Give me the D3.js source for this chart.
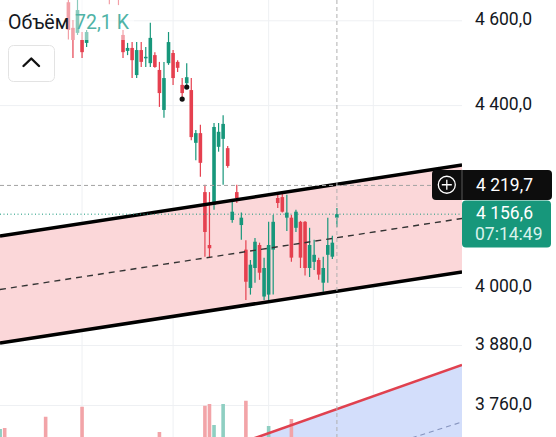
<!DOCTYPE html>
<html><head><meta charset="utf-8">
<script src="https://cdn.jsdelivr.net/npm/d3@7"></script>
<style>html,body{margin:0;padding:0;background:#fff;overflow:hidden}svg{display:block;font-family:Roboto,"Noto Sans",sans-serif}</style>
</head><body><svg id="c" width="556" height="437"></svg>
<script>
// ---- data ----
const candleOpen  = [4645,4583,4571,4554,4547,4680,4705,4690,4712,4695,4678,4700,4566,4528,4535,4471,4530,4511,4499,4518,4483,4390,4499,4523,4502,4448,4452,4436,4315,4337,4205,4090,4177,4306,4324,4303,4144,4205,4133,4080,3999,4041,4090,3981,3985,4080,4192,4194,4149,4149,4127,4140,4140,4041,4054,4058,4010,4069,4065,4149];
const candleHigh  = [4665,4602,4655,4573,4578,4725,4735,4742,4728,4708,4716,4706,4578,4547,4549,4549,4549,4537,4595,4525,4502,4502,4573,4530,4506,4464,4499,4464,4344,4356,4221,4205,4360,4360,4378,4308,4185,4221,4160,4100,4058,4105,4095,4063,4140,4155,4199,4205,4199,4155,4166,4142,4142,4127,4101,4063,4065,4149,4110,4170];
const candleLow   = [4555,4511,4566,4511,4537,4662,4668,4676,4670,4640,4660,4638,4511,4518,4464,4464,4490,4490,4490,4488,4397,4372,4495,4448,4478,4413,4443,4321,4276,4239,4065,4062,4166,4295,4221,4259,4138,4181,4101,3974,3985,4010,4016,3974,3968,3985,4170,4160,4120,4054,4118,4041,4025,4022,4037,4016,3991,4010,4060,4129];
const candleClose = [4578,4554,4626,4525,4573,4705,4690,4712,4695,4678,4700,4672,4525,4535,4506,4530,4502,4514,4559,4490,4429,4464,4549,4464,4488,4429,4466,4328,4337,4270,4118,4083,4351,4340,4358,4263,4162,4192,4149,4012,4048,4097,4031,4041,4090,4140,4181,4162,4160,4063,4162,4063,4041,4090,4069,4027,4041,4090,4095,4156.6];

// volume bars that reach into view (bar index, volume in K, up?)
const volIndex = [-15,-14,-5,3,20,30,31,32,34,39,44,49];
const volValue = [164,168,213,253,152,257,264,180,264,277,176,204];
const volUp    = [true,false,false,false,false,false,false,true,true,false,true,false];

const priceTicks = [4600,4400,4000,3880,3760];
const timeGridIdx = [3,23,44,67];

// drawings: anchor points (bar index, price)
const channelUpper = [[0,4132.0],[59,4222.4]];
const channelLower = [[0,3906.7],[59,3992.2]];
const redLine      = [[50,3724.6],[80,3819.8]];
const blueDashed   = [[80,3709.4],[86,3726.3]];
const markers      = [[25,4415],[26,4443]];

const crossPrice = 4219.7;
const lastPrice = 4156.6;
const timer = "07:14:49";
const volLabel = "Объём";
const volText = "72,1 K";

// ---- drawing ----
const W = 556, H = 437, plotR = 462;
const RED = "#e5404f", GREEN = "#17977b";
const svg = d3.select("#c");
const x = d3.scaleLinear().domain([0,59]).range([68.4,336.9]);
const y = d3.scaleLog().domain([3760,4600]).range([405.5,20.8]);
const yV = d3.scaleLinear().domain([0,400]).range([470,370]);
const ru = d3.formatLocale({decimal:",", thousands:" ", grouping:[3], currency:["",""]});
const fmt = ru.format(",.1f");

svg.append("rect").attr("width",W).attr("height",H).attr("fill","#fff");
svg.append("defs").append("clipPath").attr("id","plot")
  .append("rect").attr("x",0).attr("y",0).attr("width",plotR).attr("height",H);
const g = svg.append("g").attr("clip-path","url(#plot)");

// grid
g.selectAll(".hg").data(priceTicks).join("line")
  .attr("x1",0).attr("x2",plotR).attr("y1",d=>y(d)).attr("y2",d=>y(d))
  .attr("stroke","#eef0f3").attr("stroke-width",1);
g.selectAll(".vg").data(timeGridIdx).join("line")
  .attr("x1",d=>x(d)).attr("x2",d=>x(d)).attr("y1",0).attr("y2",H)
  .attr("stroke","#eef0f3").attr("stroke-width",1);

// helper: extend a two-anchor line across the plot width
function lineAt(anchors){
  const [a,b] = anchors;
  const x1=x(a[0]), y1=y(a[1]), x2=x(b[0]), y2=y(b[1]);
  const s=(y2-y1)/(x2-x1);
  return xx => y1 + s*(xx-x1);
}
const up = lineAt(channelUpper), lo = lineAt(channelLower);
const mid = xx => (up(xx)+lo(xx))/2;
const rl = lineAt(redLine), bd = lineAt(blueDashed);

// pink channel fill
g.append("path")
  .attr("d", d3.line()([[0,up(0)],[plotR,up(plotR)],[plotR,lo(plotR)],[0,lo(0)]]) + "Z")
  .attr("fill","#fbd7d9");
// blue fill under red line
g.append("path")
  .attr("d", d3.line()([[0,rl(0)],[plotR,rl(plotR)],[plotR,H+200],[0,H+200]]) + "Z")
  .attr("fill","#d3defb");

// volume
const bw = 3.6;
g.selectAll(".vol").data(volIndex).join("rect")
  .attr("x",(d)=>x(d)-bw/2).attr("width",bw)
  .attr("y",(d,i)=>yV(volValue[i])).attr("height",(d,i)=>yV(0)-yV(volValue[i]))
  .attr("fill",(d,i)=>volUp[i]?"#8fcfc2":"#f2a4a8");

// candles
const idx = d3.range(candleOpen.length);
const cg = g.append("g");
cg.selectAll(".wick").data(idx).join("line")
  .attr("x1",i=>x(i)).attr("x2",i=>x(i))
  .attr("y1",i=>y(candleHigh[i])).attr("y2",i=>y(candleLow[i]))
  .attr("stroke",i=>candleClose[i]>=candleOpen[i]?GREEN:RED).attr("stroke-width",1.2);
cg.selectAll(".body").data(idx).join("rect")
  .attr("x",i=>x(i)-bw/2).attr("width",bw)
  .attr("y",i=>y(Math.max(candleOpen[i],candleClose[i])))
  .attr("height",i=>Math.max(1.5, y(Math.min(candleOpen[i],candleClose[i]))-y(Math.max(candleOpen[i],candleClose[i]))))
  .attr("fill",i=>candleClose[i]>=candleOpen[i]?GREEN:RED);

// channel lines
g.append("line").attr("x1",0).attr("x2",plotR).attr("y1",up(0)).attr("y2",up(plotR))
  .attr("stroke","#000").attr("stroke-width",3.5);
g.append("line").attr("x1",0).attr("x2",plotR).attr("y1",lo(0)).attr("y2",lo(plotR))
  .attr("stroke","#000").attr("stroke-width",3.5);
g.append("line").attr("x1",0).attr("x2",plotR).attr("y1",mid(0)).attr("y2",mid(plotR))
  .attr("stroke","#333").attr("stroke-width",1.4).attr("stroke-dasharray","6,5");
g.append("line").attr("x1",0).attr("x2",plotR).attr("y1",rl(0)).attr("y2",rl(plotR))
  .attr("stroke","#e0414f").attr("stroke-width",2.6);
g.append("line").attr("x1",0).attr("x2",plotR).attr("y1",bd(0)).attr("y2",bd(plotR))
  .attr("stroke","#8795bf").attr("stroke-width",1.2).attr("stroke-dasharray","5,4");

// crosshair + last price line
g.append("line").attr("x1",0).attr("x2",plotR).attr("y1",y(crossPrice)).attr("y2",y(crossPrice))
  .attr("stroke","#a3a3a3").attr("stroke-width",1).attr("stroke-dasharray","4,3");
g.append("line").attr("x1",x(59)).attr("x2",x(59)).attr("y1",0).attr("y2",H)
  .attr("stroke","#b0b0b0").attr("stroke-width",1).attr("stroke-dasharray","4,3");
g.append("line").attr("x1",0).attr("x2",plotR).attr("y1",y(lastPrice)).attr("y2",y(lastPrice))
  .attr("stroke",GREEN).attr("stroke-width",1).attr("stroke-dasharray","1,2.5");

// markers
g.selectAll(".mk").data(markers).join("circle")
  .attr("cx",d=>x(d[0])).attr("cy",d=>y(d[1])).attr("r",2.6).attr("fill","#111");

// legend
svg.append("rect").attr("x",0).attr("y",0).attr("width",134).attr("height",40)
  .attr("fill","#fff").attr("opacity",0.5);
const lt = svg.append("text").attr("x",8).attr("y",29).attr("font-size",19.5);
lt.append("tspan").attr("fill","#131722").text(volLabel);
lt.append("tspan").attr("fill","#4fb3a6").attr("dx",6).text(volText);
svg.append("rect").attr("x",8.5).attr("y",45.5).attr("width",46).attr("height",36).attr("rx",5)
  .attr("fill","#fff").attr("stroke","#e3e3e3");
svg.append("path").attr("d","M23.5,66 L31.3,58.5 L39,66").attr("fill","none")
  .attr("stroke","#111").attr("stroke-width",2.4).attr("stroke-linecap","round").attr("stroke-linejoin","round");

// right axis labels
svg.selectAll(".tl").data(priceTicks).join("text")
  .attr("x",475).attr("y",d=>y(d)+4.5).attr("font-size",17.5).attr("fill","#131722")
  .text(d=>fmt(d));

// crosshair label
const cy = y(crossPrice);
svg.append("rect").attr("x",432).attr("y",cy-15.5).attr("width",120).attr("height",30).attr("rx",4).attr("fill","#0d0d0d");
svg.append("line").attr("x1",462).attr("x2",462).attr("y1",cy-15.5).attr("y2",cy+14.5).attr("stroke","#5a5a5a");
svg.append("circle").attr("cx",446.8).attr("cy",cy-0.7).attr("r",8.5).attr("fill","none").attr("stroke","#fff").attr("stroke-width",1.3);
svg.append("path").attr("d",`M441.8,${cy-0.7}H451.8M446.8,${cy-5.7}V${cy+4.3}`).attr("stroke","#fff").attr("stroke-width",1.3);
svg.append("text").attr("x",476).attr("y",cy+5.5).attr("font-size",17.5).attr("fill","#fff").text(fmt(crossPrice));

// last price label
const ly = y(lastPrice);
svg.append("rect").attr("x",462).attr("y",cy+15).attr("width",89).attr("height",47).attr("rx",4).attr("fill",GREEN);
svg.append("text").attr("x",476).attr("y",ly+4.5).attr("font-size",17.5).attr("fill","#fff").text(fmt(lastPrice));
svg.append("text").attr("x",475).attr("y",ly+26).attr("font-size",17.5).attr("fill","#d9f2ec").text(timer);
</script></body></html>
